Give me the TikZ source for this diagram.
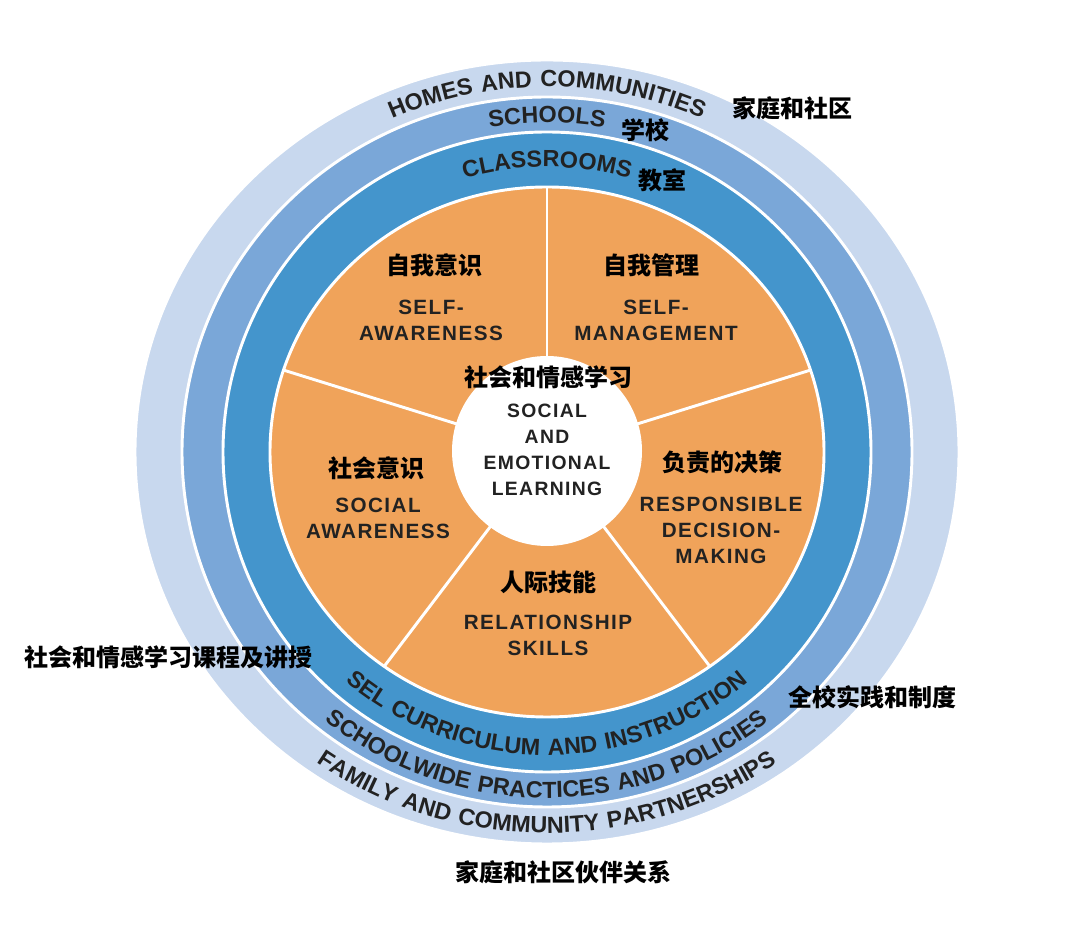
\documentclass[tikz,border=0pt]{standalone}
\usepackage{fontspec}
\setmainfont{Liberation Sans}
\newfontfamily\cjk{Noto Sans CJK SC}
\newfontfamily\wide[LetterSpace=7]{Liberation Sans}
\usetikzlibrary{decorations.text,calc}
\definecolor{ringA}{HTML}{C8D8EE}
\definecolor{ringB}{HTML}{7AA7D8}
\definecolor{ringC}{HTML}{4495CC}
\definecolor{pie}{HTML}{F0A35A}
\definecolor{ink}{HTML}{222222}
\newcommand{\rfont}{\fontsize{17.5}{17.5}\selectfont\bfseries\wide}
\begin{document}
\begin{tikzpicture}[x=0.75pt,y=0.75pt,
  ring/.style={draw=white,line width=2.2pt},
  cn/.style={font=\cjk\fontsize{18}{20}\selectfont\bfseries,text=black,inner sep=0pt},
  en/.style={font=\wide\fontsize{15.5}{19.5}\selectfont\bfseries,text=ink,align=center,inner sep=0pt},
  divider/.style={draw=white,line width=2.2pt},
  arctext/.style={decorate,decoration={text along path,text align=center,text color=ink,text format delimiters={|}{|}}}]
\useasboundingbox (0,0) rectangle (1080,930);
\coordinate (C) at (547,478);
\fill[white] (0,0) rectangle (1080,930);
\path[ring,fill=ringA] (C) ellipse [x radius=412,y radius=392];
\path[ring,fill=ringB] (C) ellipse [x radius=365,y radius=355];
\path[ring,fill=ringC] (C) ellipse [x radius=324,y radius=320];
\path[ring,fill=pie] (C) ellipse [x radius=277,y radius=265];
\foreach \a/\n in {90/d1,162/d2,18/d3,-54/d4,-126/d5}{
  \coordinate (\n) at ($(C)+(\a:277 and 265)$);
  \draw[divider] (C) -- (\n);
}
\node[circle,fill=white,minimum size=142.5pt,inner sep=0pt] (core) at (547,479) {};
% top arc texts
\path[arctext,decoration={text={|\rfont|HOMES AND COMMUNITIES}}]
  ($(C)+(150:379 and 365)$) arc[start angle=150,end angle=30,x radius=379,y radius=365];
\path[arctext,decoration={text={|\rfont|SCHOOLS}}]
  ($(C)+(150:335 and 329)$) arc[start angle=150,end angle=30,x radius=335,y radius=329];
\path[arctext,decoration={text={|\rfont|CLASSROOMS}}]
  ($(C)+(150:293 and 285)$) arc[start angle=150,end angle=30,x radius=293,y radius=285];
% bottom arc texts
\path[arctext,decoration={text={|\rfont|FAMILY AND COMMUNITY PARTNERSHIPS}}]
  ($(C)+(200:397 and 381)$) arc[start angle=200,end angle=340,x radius=397,y radius=381];
\path[arctext,decoration={text={|\rfont|SCHOOLWIDE PRACTICES AND POLICIES}}]
  ($(C)+(200:353 and 346)$) arc[start angle=200,end angle=340,x radius=353,y radius=346];
\path[arctext,decoration={text={|\rfont|SEL CURRICULUM AND INSTRUCTION}}]
  ($(C)+(200:309 and 303)$) arc[start angle=200,end angle=340,x radius=309,y radius=303];
% outside chinese labels
\node[cn] (homes) at (792,822) {家庭和社区};
\node[cn] (schools) at (645,800) {学校};
\node[cn] (class) at (662,750) {教室};
\node[cn] (selci) at (168,273) {社会和情感学习课程及讲授};
\node[cn] (swp) at (872,233) {全校实践和制度};
\node[cn] (fcp) at (563,58) {家庭和社区伙伴关系};
% segment labels
\node[cn] (saz) at (434,665) {自我意识};
\node[en] (sae) at (431,610) {SELF-\\AWARENESS};
\node[cn] (smz) at (651,665) {自我管理};
\node[en] (sme) at (656,610) {SELF-\\MANAGEMENT};
\node[cn] (selz) at (548,553) {社会和情感学习};
\node[en,font=\wide\fontsize{14.5}{19.5}\selectfont\bfseries] (sele) at (547,480) {SOCIAL\\AND\\EMOTIONAL\\LEARNING};
\node[cn] (socz) at (376,462) {社会意识};
\node[en] (soce) at (378,412) {SOCIAL\\AWARENESS};
\node[cn] (rdz) at (722,468) {负责的决策};
\node[en] (rde) at (721,400) {RESPONSIBLE\\DECISION-\\MAKING};
\node[cn] (rsz) at (548,348) {人际技能};
\node[en] (rse) at (548,295) {RELATIONSHIP\\SKILLS};
\end{tikzpicture}
\end{document}
